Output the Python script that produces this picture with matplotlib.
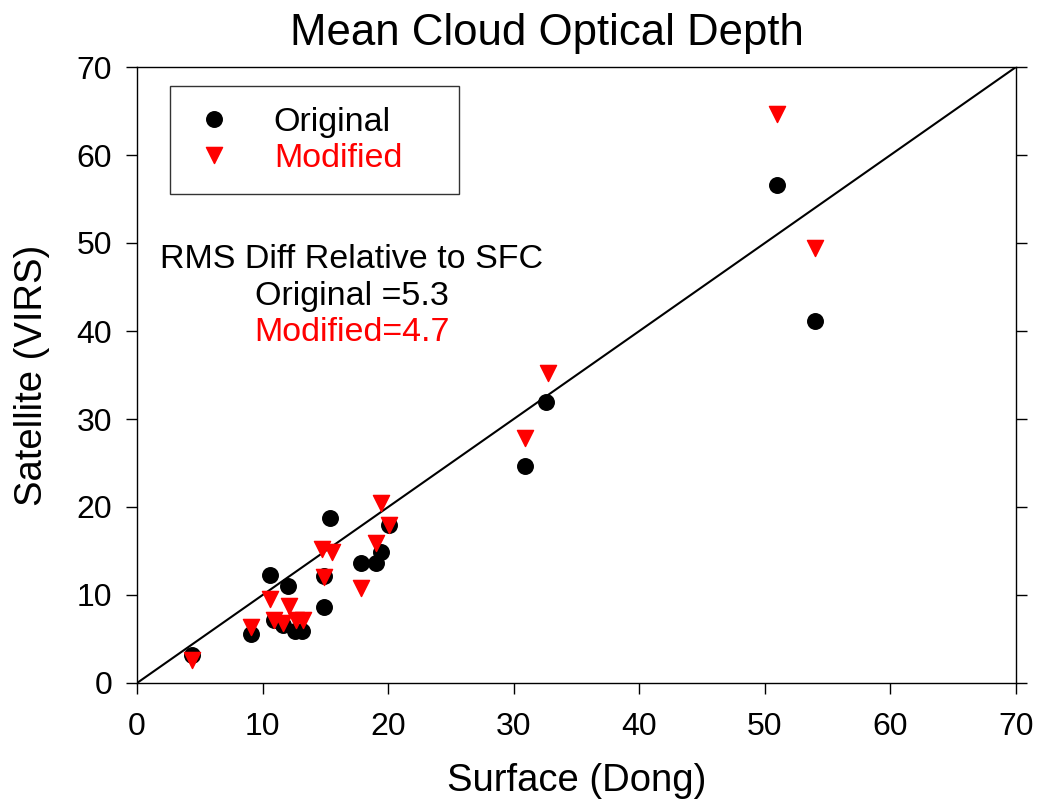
import numpy as np
import matplotlib.pyplot as plt

plt.rcParams['font.family'] = ['Liberation Sans', 'DejaVu Sans']

# surface (Dong) vs satellite (VIRS) optical depth
x_orig = [4.35, 9.1, 10.6, 10.9, 11.65, 12.05, 12.6, 13.1, 14.85, 14.9, 15.4,
          17.85, 19.0, 19.4, 20.1, 30.9, 32.6, 51.0, 54.0]
y_orig = [3.2, 5.6, 12.3, 7.2, 6.6, 11.0, 5.95, 5.95, 12.2, 8.6, 18.7,
          13.6, 13.6, 14.9, 17.9, 24.7, 31.9, 56.6, 41.1]

x_mod = [4.35, 9.1, 10.6, 10.9, 11.65, 12.1, 12.65, 13.2, 14.7, 15.5, 14.9,
         17.85, 19.0, 19.4, 20.1, 30.9, 32.7, 51.0, 54.0]
y_mod = [2.6, 6.4, 9.6, 7.2, 6.85, 8.7, 7.2, 7.2, 15.2, 14.9, 12.0,
         10.8, 15.9, 20.4, 17.9, 27.8, 35.2, 64.7, 49.4]

ticks = [0, 10, 20, 30, 40, 50, 60, 70]
rms_orig = 5.3
rms_mod = 4.7

fig = plt.figure(figsize=(10.39, 8), dpi=100)
ax = fig.add_axes([0.1319, 0.14625, 0.8460, 0.77])

ax.plot([0, 70], [0, 70], color='black', lw=1.5, zorder=1)
ax.scatter(x_orig, y_orig, s=125, marker='o', color='black', label='Original', zorder=2)
ax.scatter(x_mod, y_mod, s=135, marker='v', color='red', label='Modified', zorder=3)

ax.set_xlim(0, 70)
ax.set_ylim(0, 70)
ax.set_xticks(ticks)
ax.set_yticks(ticks)
ax.tick_params(axis='both', which='both', direction='out', length=8, width=1,
               labelsize=23, top=False, right=True, pad=10)
ax.tick_params(axis='x', pad=13)
for s in ax.spines.values():
    s.set_linewidth(1)

ax.set_title('Mean Cloud Optical Depth', fontsize=31.5, pad=16, x=0.466)
ax.set_xlabel('Surface (Dong)', fontsize=27.5, labelpad=15)
ax.set_ylabel('Satellite (VIRS)', fontsize=27.5, labelpad=19)

leg = ax.legend(loc='upper left', bbox_to_anchor=(0.0375, 0.969, 0.3285, 0.0),
                mode='expand', fontsize=24.5, frameon=True, fancybox=False,
                edgecolor='black', borderpad=0.6, handlelength=1.4,
                handletextpad=1.05, labelspacing=0.15, markerscale=1.0,
                borderaxespad=0, labelcolor=['black', 'red'],
                scatteryoffsets=[0.5])
leg.get_frame().set_linewidth(1)

ax.text(0.244, 0.688, 'RMS Diff Relative to SFC', transform=ax.transAxes,
        ha='center', va='center', fontsize=24.5)
ax.text(0.244, 0.628, f'Original ={rms_orig}', transform=ax.transAxes,
        ha='center', va='center', fontsize=24.5)
ax.text(0.244, 0.569, f'Modified={rms_mod}', transform=ax.transAxes,
        ha='center', va='center', fontsize=24.5, color='red')

fig.savefig('out.png', dpi=100)
